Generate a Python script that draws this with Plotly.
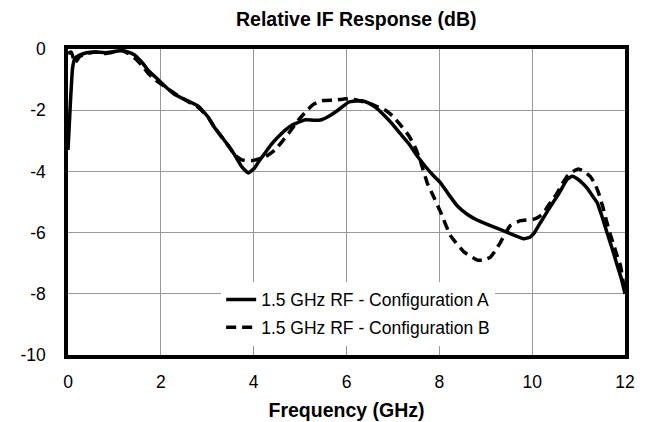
import plotly.graph_objects as go

# Relative IF response
freq_a = [0.0, 0.05, 0.1, 0.15, 0.25, 0.4, 0.6, 0.8, 1.0, 1.15, 1.3, 1.44, 1.6, 1.73, 1.87,
          2.01, 2.15, 2.3, 2.45, 2.59, 2.8, 3.02, 3.15, 3.31, 3.45, 3.59, 3.74, 3.88, 4.02,
          4.12, 4.24, 4.38, 4.53, 4.68, 4.82, 4.96, 5.11, 5.3, 5.47, 5.62, 5.76, 5.9, 6.04,
          6.2, 6.33, 6.48, 6.62, 6.8, 6.98, 7.15, 7.34, 7.5, 7.7, 7.85, 8.03, 8.2, 8.39,
          8.6, 8.8, 9.1, 9.46, 9.82, 9.95, 10.05, 10.18, 10.35, 10.54, 10.66, 10.75, 10.86,
          10.98, 11.08, 11.18, 11.3, 11.4, 11.5, 11.61, 11.72, 11.83, 11.92, 12.0]
resp_a = [-3.3, -1.8, -0.6, -0.3, -0.2, -0.12, -0.1, -0.12, -0.08, -0.05, -0.1, -0.2, -0.45,
          -0.7, -0.9, -1.1, -1.3, -1.49, -1.6, -1.7, -1.86, -2.23, -2.55, -2.87, -3.15, -3.46,
          -3.84, -4.05, -3.89, -3.65, -3.41, -3.12, -2.87, -2.65, -2.49, -2.4, -2.31, -2.33,
          -2.31, -2.2, -2.06, -1.9, -1.74, -1.7, -1.69, -1.77, -1.9, -2.15, -2.44, -2.75,
          -3.09, -3.45, -3.84, -4.1, -4.38, -4.75, -5.13, -5.4, -5.58, -5.77, -5.99, -6.2,
          -6.15, -6.0, -5.67, -5.25, -4.81, -4.5, -4.27, -4.16, -4.25, -4.38, -4.54, -4.8,
          -5.02, -5.45, -5.99, -6.5, -7.06, -7.5, -8.0]

freq_b = [0.0, 0.07, 0.15, 0.25, 0.4, 0.6, 0.8, 1.0, 1.15, 1.3, 1.44, 1.6, 1.73, 1.87, 2.01,
          2.15, 2.3, 2.45, 2.59, 2.8, 3.02, 3.15, 3.31, 3.45, 3.59, 3.74, 3.95, 4.17, 4.3,
          4.46, 4.6, 4.75, 4.96, 5.18, 5.3, 5.47, 5.76, 5.95, 6.12, 6.3, 6.48, 6.66, 6.84,
          7.0, 7.2, 7.35, 7.49, 7.6, 7.74, 7.9, 8.03, 8.24, 8.53, 8.82, 8.95, 9.1, 9.2, 9.32,
          9.43, 9.53, 9.75, 10.04, 10.15, 10.25, 10.4, 10.54, 10.65, 10.75, 10.88, 11.0,
          11.12, 11.25, 11.35, 11.43, 11.52, 11.61, 11.68, 11.76, 11.84, 11.9, 11.97, 12.0]
resp_b = [-0.15, -0.1, -0.45, -0.25, -0.15, -0.1, -0.15, -0.1, -0.05, -0.15, -0.3, -0.55,
          -0.8, -1.0, -1.15, -1.3, -1.45, -1.6, -1.72, -1.9, -2.23, -2.55, -2.87, -3.15, -3.46,
          -3.62, -3.65, -3.57, -3.48, -3.3, -3.05, -2.76, -2.33, -1.96, -1.8, -1.69, -1.67,
          -1.63, -1.64, -1.7, -1.77, -1.88, -2.0, -2.2, -2.55, -2.85, -3.25, -3.7, -4.38,
          -4.9, -5.34, -6.1, -6.63, -6.9, -6.9, -6.8, -6.6, -6.31, -6.0, -5.77, -5.61, -5.56,
          -5.48, -5.34, -5.0, -4.7, -4.4, -4.16, -4.0, -3.92, -4.0, -4.16, -4.4, -4.7, -5.15,
          -5.67, -6.05, -6.42, -6.8, -7.06, -7.7, -8.0]

# axis ticks (plain hyphen minus, as in the original)
y_ticks = [0, -2, -4, -6, -8, -10]
y_labels = ["0", "-2", "-4", "-6", "-8", "-10"]
x_ticks = [0, 2, 4, 6, 8, 10, 12]

name_a = "1.5 GHz RF - Configuration A"
name_b = "1.5 GHz RF - Configuration B"

font = "Liberation Sans, Arial, Helvetica, sans-serif"

fig = go.Figure()
fig.add_trace(go.Scatter(x=freq_a, y=resp_a, mode="lines", name=name_a, legendgroup="a",
                         line=dict(color="black", width=3.5, shape="spline", smoothing=0.4)))
fig.add_trace(go.Scatter(x=freq_b, y=resp_b, mode="lines", name=name_b, legendgroup="b",
                         line=dict(color="black", width=3.5, dash="10px,6px",
                                   shape="spline", smoothing=0.4)))

fig.update_layout(
    width=645, height=422,
    margin=dict(l=60, r=28, t=41, b=75),
    paper_bgcolor="white", plot_bgcolor="white",
    font=dict(family=font, size=17.5, color="black"),
    title=dict(text="<b>Relative IF Response (dB)</b>", x=0.54, xanchor="center",
               y=0.99, yanchor="top", pad=dict(t=0), font=dict(size=19.5)),
    legend=dict(x=0.275, y=0.135, xanchor="left", yanchor="middle",
                bgcolor="white", borderwidth=0, font=dict(size=17.5),
                traceorder="grouped", tracegroupgap=2),
)
fig.update_xaxes(range=[0, 12], tickvals=x_ticks, showgrid=True, gridcolor="#999999", gridwidth=1,
                 showline=True, linecolor="black", linewidth=3.5, mirror=True, ticks="",
                 ticklabelstandoff=8, zeroline=False,
                 title=dict(text="<b>Frequency (GHz)</b>", font=dict(size=19.5), standoff=14))
fig.update_yaxes(range=[-10, 0], tickvals=y_ticks, ticktext=y_labels, showgrid=True,
                 gridcolor="#999999", gridwidth=1,
                 showline=True, linecolor="black", linewidth=3.5, mirror=True, ticks="",
                 ticklabelstandoff=15, zeroline=False)

fig.write_html("out.html")
